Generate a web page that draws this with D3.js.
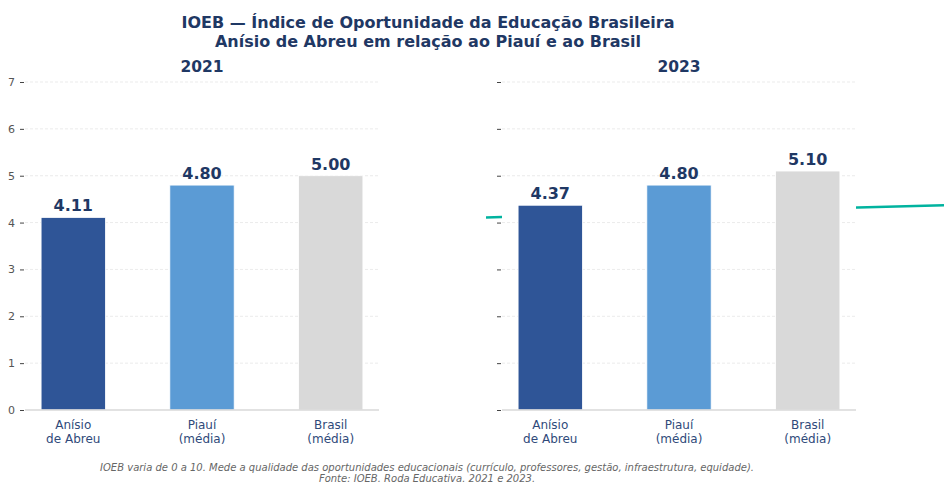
<!DOCTYPE html>
<html>
<head>
<meta charset="utf-8">
<script src="https://cdn.jsdelivr.net/npm/d3@7"></script>
<style>
  body { margin: 0; background: #fff; }
  svg { display: block; font-family: "DejaVu Sans", sans-serif; }
</style>
</head>
<body>
<div id="chart"></div>
<script>
// Data
var categories = ['Anísio\nde Abreu', 'Piauí\n(média)', 'Brasil\n(média)'];
var years = ['2021', '2023'];
var values2021 = [4.11, 4.80, 5.00];
var values2023 = [4.37, 4.80, 5.10];
var yTicks = [0, 1, 2, 3, 4, 5, 6, 7];
var barColors = ['#2f5597', '#5b9bd5', '#d9d9d9'];
var titleLines = ['IOEB — Índice de Oportunidade da Educação Brasileira',
                  'Anísio de Abreu em relação ao Piauí e ao Brasil'];
var notes = ['IOEB varia de 0 a 10. Mede a qualidade das oportunidades educacionais (currículo, professores, gestão, infraestrutura, equidade).',
             'Fonte: IOEB. Roda Educativa. 2021 e 2023.'];

var width = 944, height = 484;
var navy = '#1f3864';

var svg = d3.select('#chart').append('svg')
            .attr('width', width)
            .attr('height', height);

// shared y scale
var y = d3.scaleLinear().domain([0, 7]).range([410, 82]);

// panel x ranges (xlim -0.375 .. 2.375 like matplotlib margins)
var panels = [
  { year: years[0], values: values2021, x0: 25, x1: 379, labels: true },
  { year: years[1], values: values2023, x0: 502, x1: 856, labels: false }
];

// teal connection line from Anísio 2021 to Anísio 2023 (drawn behind panels)
var link = d3.line().x(function(d) { return d[0]; }).y(function(d) { return y(d[1]); });
svg.append('path')
   .attr('d', link([[486, values2021[0]], [944, values2023[0]]]))
   .attr('fill', 'none')
   .attr('stroke', '#00b39f')
   .attr('stroke-width', 2.5);

panels.forEach(function(p) {
  var x = d3.scaleLinear().domain([-0.375, 2.375]).range([p.x0, p.x1]);
  var g = svg.append('g');

  // axes background hides the connection line
  g.append('rect')
   .attr('x', p.x0).attr('y', y(7.2))
   .attr('width', p.x1 - p.x0).attr('height', y(0) - y(7.2))
   .attr('fill', '#fff');

  // grid
  g.selectAll('.grid').data(yTicks.slice(1)).enter().append('line')
   .attr('x1', p.x0).attr('x2', p.x1)
   .attr('y1', function(d) { return y(d); })
   .attr('y2', function(d) { return y(d); })
   .attr('stroke', '#e6e6e6')
   .attr('stroke-width', 0.8)
   .attr('stroke-dasharray', '3,2');

  // y axis ticks
  var yAxis = d3.axisLeft(y).tickValues(yTicks).tickSize(4).tickPadding(5)
                .tickFormat(p.labels ? d3.format('d') : '');
  var ya = g.append('g')
            .attr('transform', 'translate(' + (p.x0 - 1) + ',0)')
            .call(yAxis);
  ya.select('.domain').remove();
  ya.selectAll('line').attr('stroke', '#444');
  ya.selectAll('text').attr('fill', '#555').style('font-size', '11px')
    .style('font-family', '"DejaVu Sans", sans-serif');

  // bars
  g.selectAll('.bar').data(p.values).enter().append('rect')
   .attr('x', function(d, i) { return x(i - 0.25); })
   .attr('width', x(0.5) - x(0))
   .attr('y', function(d) { return y(d); })
   .attr('height', function(d) { return y(0) - y(d); })
   .attr('fill', function(d, i) { return barColors[i]; })
   .attr('stroke', '#fff')
   .attr('stroke-width', 0.8);

  // value labels
  g.selectAll('.val').data(p.values).enter().append('text')
   .attr('x', function(d, i) { return x(i); })
   .attr('y', function(d) { return y(d) - 6; })
   .attr('text-anchor', 'middle')
   .attr('fill', navy)
   .style('font-size', '16px')
   .style('font-weight', 'bold')
   .text(function(d) { return d.toFixed(2); });

  // bottom spine
  g.append('line')
   .attr('x1', p.x0).attr('x2', p.x1)
   .attr('y1', y(0)).attr('y2', y(0))
   .attr('stroke', '#d9d9d9')
   .attr('stroke-width', 1.5);

  // category labels
  categories.forEach(function(c, i) {
    var t = g.append('text')
             .attr('x', x(i))
             .attr('y', y(0) + 19)
             .attr('text-anchor', 'middle')
             .attr('fill', '#2f4a7a')
             .style('font-size', '12px');
    c.split('\n').forEach(function(s, k) {
      t.append('tspan').attr('x', x(i)).attr('dy', k === 0 ? 0 : 14).text(s);
    });
  });

  // panel title
  g.append('text')
   .attr('x', (p.x0 + p.x1) / 2)
   .attr('y', 72)
   .attr('text-anchor', 'middle')
   .attr('fill', navy)
   .style('font-size', '15.5px')
   .style('font-weight', 'bold')
   .text(p.year);
});

// main title
svg.selectAll('.title').data(titleLines).enter().append('text')
   .attr('x', 428)
   .attr('y', function(d, i) { return 28 + i * 19; })
   .attr('text-anchor', 'middle')
   .attr('fill', navy)
   .style('font-size', '16px')
   .style('font-weight', 'bold')
   .text(function(d) { return d; });

// footnote
svg.selectAll('.note').data(notes).enter().append('text')
   .attr('x', 427)
   .attr('y', function(d, i) { return 471 + i * 11; })
   .attr('text-anchor', 'middle')
   .attr('fill', '#666')
   .style('font-size', '10px')
   .style('font-style', 'italic')
   .text(function(d) { return d; });
</script>
</body>
</html>
